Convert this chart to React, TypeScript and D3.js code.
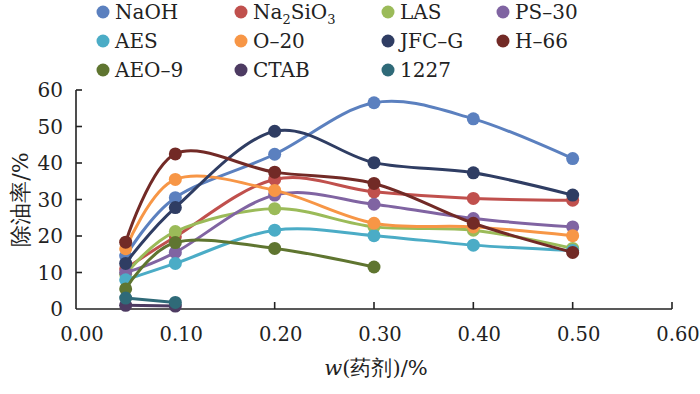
import React, { useEffect, useRef } from 'react';
import * as d3 from 'd3';

// dosage w(药剂)/% on the x axis
const doses = [0.05, 0.1, 0.2, 0.3, 0.4, 0.5];

// oil removal rate (%) for each agent
const naoh = [14.5, 30.5, 42.4, 56.5, 52.1, 41.2];
const na2sio3 = [11, 19.8, 35.5, 32.1, 30.3, 29.8];
const las = [9.5, 21.2, 27.5, 22.5, 21.6, 16.6];
const ps30 = [10, 15.5, 31.2, 28.7, 24.8, 22.5];
const aes = [8, 12.5, 21.6, 20.1, 17.5, 16.0];
const o20 = [16.5, 35.5, 32.5, 23.5, 22.5, 20.1];
const jfcg = [12.5, 27.8, 48.7, 40.1, 37.3, 31.2];
const h66 = [18.3, 42.5, 37.5, 34.4, 23.5, 15.5];
const aeo9 = [5.5, 18.2, 16.6, 11.5];
const ctab = [1.0, 0.8];
const c1227 = [3.0, 1.8];

const seriesNames = ['NaOH', 'Na2SiO3', 'LAS', 'PS–30', 'AES', 'O–20', 'JFC–G', 'H–66', 'AEO–9', 'CTAB', '1227'];
const seriesValues = [naoh, na2sio3, las, ps30, aes, o20, jfcg, h66, aeo9, ctab, c1227];
const seriesColors = ['#5b80bf', '#c0504d', '#9bbb59', '#8064a2', '#4bacc6', '#f79646', '#2f3d63', '#722a26', '#5f7530', '#4d3b62', '#2f6a78'];

const xTicks = [0, 0.1, 0.2, 0.3, 0.4, 0.5, 0.6];
const yTicks = [0, 10, 20, 30, 40, 50, 60];

const FONT = "'DejaVu Serif', serif";

const App: React.FC = () => {
    const svgRef = useRef<SVGSVGElement>(null);

    useEffect(() => {
        if (!svgRef.current) return;
        const svg = d3.select(svgRef.current);
        svg.selectAll('*').remove();

        const x = d3.scaleLinear().domain([0, 0.6]).range([76, 672]);
        const y = d3.scaleLinear().domain([0, 60]).range([309, 90]);

        // axes
        const axes = svg.append('g').attr('stroke', '#222').attr('stroke-width', 1.6);
        axes.append('line').attr('x1', x(0)).attr('x2', x(0)).attr('y1', y(0)).attr('y2', y(60));
        axes.append('line').attr('x1', x(0)).attr('x2', x(0.6)).attr('y1', y(0)).attr('y2', y(0));
        axes.selectAll('.xt').data(xTicks.slice(1)).enter().append('line')
            .attr('x1', d => x(d)).attr('x2', d => x(d))
            .attr('y1', y(0)).attr('y2', y(0) - 7);
        axes.selectAll('.yt').data(yTicks.slice(1)).enter().append('line')
            .attr('x1', x(0)).attr('x2', x(0) + 6)
            .attr('y1', d => y(d)).attr('y2', d => y(d));

        svg.selectAll('.xl').data(xTicks).enter().append('text')
            .attr('x', d => x(d) + 6).attr('y', 341)
            .attr('text-anchor', 'middle')
            .attr('font-size', 19.5).attr('fill', '#222')
            .text(d => d.toFixed(2));

        svg.selectAll('.yl').data(yTicks).enter().append('text')
            .attr('x', 63).attr('y', d => y(d)).attr('dy', '0.36em')
            .attr('text-anchor', 'end')
            .attr('font-size', 20).attr('fill', '#222')
            .text(d => d);

        // axis titles
        const xt = svg.append('text')
            .attr('x', 376).attr('y', 375).attr('text-anchor', 'middle')
            .attr('font-size', 21).attr('fill', '#222');
        xt.append('tspan').attr('font-style', 'italic').text('w');
        xt.append('tspan').text('(药剂)/%');

        svg.append('text')
            .attr('transform', `translate(28,${(y(0) + y(60)) / 2}) rotate(-90)`)
            .attr('text-anchor', 'middle')
            .attr('font-size', 22).attr('fill', '#222')
            .text('除油率/%');

        // series
        const line = d3.line<number>()
            .x((_, i) => x(doses[i]))
            .y(d => y(d))
            .curve(d3.curveCardinal.tension(0));

        seriesValues.forEach((vals, si) => {
            const g = svg.append('g');
            g.append('path')
                .attr('d', line(vals))
                .attr('fill', 'none')
                .attr('stroke', seriesColors[si])
                .attr('stroke-width', 3);
            g.selectAll('circle').data(vals).enter().append('circle')
                .attr('cx', (_, i) => x(doses[i]))
                .attr('cy', d => y(d))
                .attr('r', 6.5)
                .attr('fill', seriesColors[si]);
        });

        // legend
        const colX = [103, 241, 388, 503];
        const rowY = [12, 41, 70];
        seriesNames.forEach((name, i) => {
            const cx = colX[i % 4];
            const cy = rowY[Math.floor(i / 4)];
            svg.append('circle').attr('cx', cx).attr('cy', cy).attr('r', 6.5).attr('fill', seriesColors[i]);
            const t = svg.append('text')
                .attr('x', cx + 12).attr('y', cy).attr('dy', '0.36em')
                .attr('font-size', 20).attr('fill', '#222');
            if (name === 'Na2SiO3') {
                t.append('tspan').text('Na');
                t.append('tspan').attr('dy', 5).attr('font-size', 13).text('2');
                t.append('tspan').attr('dy', -5).text('SiO');
                t.append('tspan').attr('dy', 5).attr('font-size', 13).text('3');
            } else {
                t.text(name);
            }
        });
    }, []);

    return (
        <svg
            ref={svgRef}
            width={700}
            height={394}
            fontFamily={FONT}
            style={{ position: 'absolute', left: 0, top: 0, background: '#fff' }}
        />
    );
};

export default App;
